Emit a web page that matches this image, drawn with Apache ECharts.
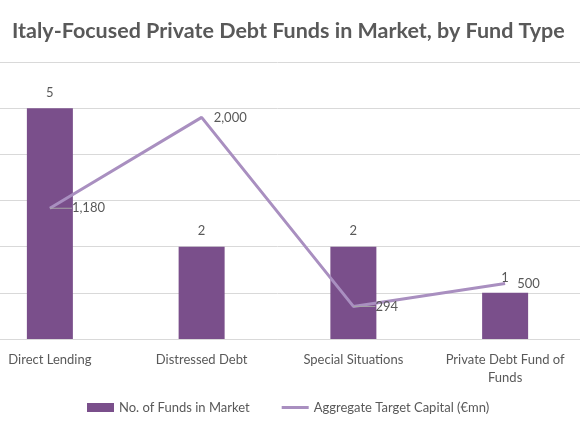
<!DOCTYPE html>
<html>
<head>
<meta charset="utf-8">
<script src="https://cdn.jsdelivr.net/npm/echarts@6/dist/echarts.min.js"></script>
<style>
  html, body { margin: 0; padding: 0; background: #fff; overflow: hidden; }
  #chart { width: 607px; height: 435px; margin-left: -26px; }
</style>
</head>
<body>
<div id="chart"></div>
<script>
var categories = ['Direct Lending', 'Distressed Debt', 'Special Situations', 'Private Debt Fund of\nFunds'];
var numFunds = [5, 2, 2, 1];
var targetCapital = [1180, 2000, 294, 500];
// labels pushed away from the point (with a short leader line)
var movedLabels = [0, 2];

var lineData = targetCapital.map(function (v, i) {
    var moved = movedLabels.indexOf(i) >= 0;
    return { value: v, labelLine: { show: moved } };
});

// chart div is shifted 26px left, so page x = chart x - 26
var myChart = echarts.init(document.getElementById('chart'));
myChart.setOption({
    textStyle: { fontFamily: 'Lato' },
    title: {
        text: 'Italy-Focused Private Debt Funds in Market, by Fund Type',
        left: 33,
        top: 15,
        textStyle: { fontFamily: 'Lato', fontSize: 21.5, fontWeight: 'bold', color: '#595959' }
    },
    legend: {
        bottom: 16,
        left: 108,
        itemGap: 32,
        itemWidth: 27,
        itemHeight: 9,
        textStyle: { color: '#595959', fontSize: 13 },
        data: [
            { name: 'No. of Funds in Market', icon: 'rect' },
            { name: 'Aggregate Target Capital (€mn)', icon: 'path://M0,0 L27,0 L27,3 L0,3 Z' }
        ]
    },
    grid: { left: 0, right: 0, top: 62, height: 277 },
    xAxis: [{
        type: 'category',
        data: categories,
        axisLine: { lineStyle: { color: '#d9d9d9' } },
        axisTick: { show: false },
        axisLabel: { color: '#595959', fontSize: 13, margin: 12, lineHeight: 18, interval: 0 }
    }],
    yAxis: [{
        type: 'value',
        min: 0, max: 6, interval: 1,
        axisLabel: { show: false },
        axisLine: { show: false },
        axisTick: { show: false },
        splitLine: { lineStyle: { color: '#d9d9d9', width: 1 } }
    }, {
        type: 'value',
        min: 0, max: 2500, interval: 500,
        axisLabel: { show: false },
        axisLine: { show: false },
        axisTick: { show: false },
        splitLine: { show: false }
    }],
    series: [{
        name: 'No. of Funds in Market',
        type: 'bar',
        barWidth: 46,
        data: numFunds,
        itemStyle: { color: '#7a4f8b' },
        label: { show: true, position: 'top', distance: 9, color: '#595959', fontSize: 13 }
    }, {
        name: 'Aggregate Target Capital (€mn)',
        type: 'line',
        yAxisIndex: 1,
        data: lineData,
        symbol: 'circle',
        symbolSize: 0,
        showSymbol: true,
        lineStyle: { color: '#a98fc0', width: 3 },
        itemStyle: { color: '#a98fc0' },
        label: {
            show: true, position: 'right', distance: 12, color: '#595959', fontSize: 13,
            formatter: function (p) { return p.value.toLocaleString('en-US'); }
        },
        labelLine: { show: false, length2: 0, lineStyle: { color: '#a6a6a6', width: 1 } },
        labelLayout: function (p) {
            if (movedLabels.indexOf(p.dataIndex) >= 0) {
                return { dx: 10 };
            }
            return {};
        }
    }]
});
</script>
</body>
</html>
